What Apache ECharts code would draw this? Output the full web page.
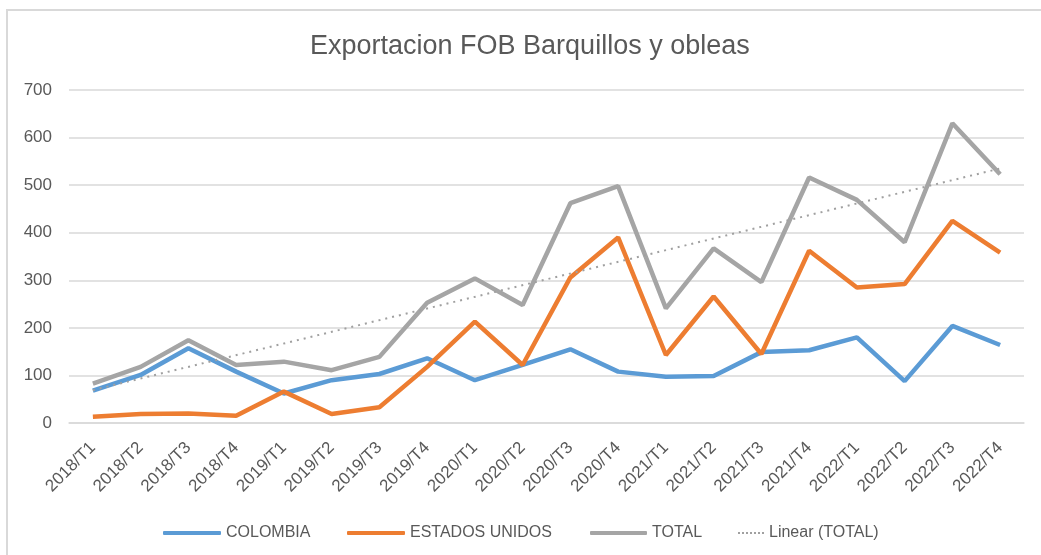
<!DOCTYPE html>
<html>
<head>
<meta charset="utf-8">
<script src="https://cdn.jsdelivr.net/npm/echarts@6/dist/echarts.min.js"></script>
<style>html,body{margin:0;padding:0;background:#fff}#c{width:1041px;height:555px}</style>
</head>
<body>
<div id="c"></div>
<script>
const categories = ['2018/T1','2018/T2','2018/T3','2018/T4','2019/T1','2019/T2','2019/T3','2019/T4','2020/T1','2020/T2','2020/T3','2020/T4','2021/T1','2021/T2','2021/T3','2021/T4','2022/T1','2022/T2','2022/T3','2022/T4'];
const colombia = [68,101,157,108,62,90,103,136,90,122,155,108,97,99,149,153,180,88,204,164];
const estadosUnidos = [13,19,20,15,66,19,33,118,213,122,306,390,143,266,145,362,285,292,425,358];
const total = [83,118,174,122,129,111,139,253,304,248,462,498,241,367,296,516,469,380,630,523];
const trendEnds = [69, 535];
const yTicks = [0,100,200,300,400,500,600,700];

const TXT = '#595959';
const FONT = 'Liberation Sans';
const DOTS = 'path://M0,0h2v2h-2zM4,0h2v2h-2zM8,0h2v2h-2zM12,0h2v2h-2zM16,0h2v2h-2zM20,0h2v2h-2zM24,0h2v2h-2z';
const chart = echarts.init(document.getElementById('c'));
function lg(name, left, w, h, icon, color){
  return {data:[{name:name, icon:icon, itemStyle:{color:color}}], left:left, top:518, itemWidth:w, itemHeight:h, itemGap:0,
    textStyle:{color:TXT, fontSize:16, fontFamily:FONT, lineHeight:20}, selectedMode:false};
}
chart.setOption({
  animation:false,
  backgroundColor:'#fff',
  graphic:[{type:'rect', shape:{x:7,y:10,width:1200,height:700}, style:{fill:'none', stroke:'#D9D9D9', lineWidth:2}, silent:true}],
  title:{text:'Exportacion FOB Barquillos y obleas', left:305, top:28,
    textStyle:{color:TXT, fontSize:27, fontWeight:'normal', fontFamily:FONT}},
  legend:[
    lg('COLOMBIA',158,58,4,'roundRect','#5B9BD5'),
    lg('ESTADOS UNIDOS',342,58,4,'roundRect','#ED7D31'),
    lg('TOTAL',585,57,4,'roundRect','#A5A5A5'),
    lg('Linear (TOTAL)',733,26,2,DOTS,'#A0A0A0')
  ],
  grid:{left:69, right:17, top:90, bottom:132, containLabel:false},
  xAxis:{type:'category', data:categories, boundaryGap:true,
    axisLine:{show:true, lineStyle:{color:'#D9D9D9', width:1.5}},
    axisTick:{show:false},
    axisLabel:{rotate:45, color:TXT, fontSize:17, fontFamily:FONT, margin:22, interval:0}},
  yAxis:{type:'value', min:yTicks[0], max:yTicks[yTicks.length-1], interval:100,
    axisLine:{show:false}, axisTick:{show:false},
    axisLabel:{color:TXT, fontSize:17, fontFamily:FONT, margin:17},
    splitLine:{lineStyle:{color:'#D9D9D9', width:1.5}}},
  series:[
    {name:'COLOMBIA', type:'line', data:colombia, symbol:'none', lineStyle:{color:'#5B9BD5', width:4.5}, itemStyle:{color:'#5B9BD5'}},
    {name:'ESTADOS UNIDOS', type:'line', data:estadosUnidos, symbol:'none', lineStyle:{color:'#ED7D31', width:4.5}, itemStyle:{color:'#ED7D31'}},
    {name:'TOTAL', type:'line', data:total, symbol:'none', lineStyle:{color:'#A5A5A5', width:4.5}, itemStyle:{color:'#A5A5A5'}},
    {name:'Linear (TOTAL)', type:'line', data:[[0,trendEnds[0]],[categories.length-1,trendEnds[1]]], symbol:'none', lineStyle:{color:'#A0A0A0', width:2, type:[2,5]}, itemStyle:{color:'#A0A0A0'}}
  ]
});
</script>
</body>
</html>
